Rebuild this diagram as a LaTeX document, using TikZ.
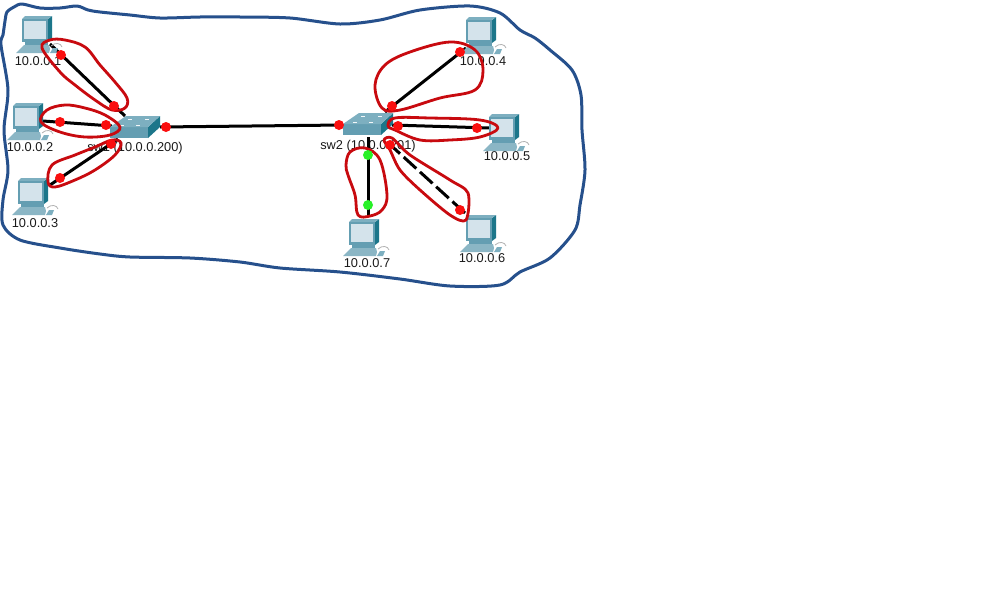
\documentclass[tikz,border=0pt]{standalone}
\usepackage{fontspec}
\setmainfont{Liberation Sans}
\usepackage{xcolor}
\usetikzlibrary{positioning}
\definecolor{outlineblue}{RGB}{38,80,140}
\definecolor{loopred}{RGB}{200,10,15}
\definecolor{dotred}{RGB}{250,15,15}
\definecolor{dotgreen}{RGB}{40,240,40}
\definecolor{screenblue}{RGB}{212,227,235}
\definecolor{casetop}{RGB}{125,175,192}
\definecolor{casefront}{RGB}{100,158,178}
\definecolor{caseside}{RGB}{28,118,138}

\begin{document}
\begin{tikzpicture}[
    x=1pt, y=-1pt,
    link/.style={line width=3pt, black},
    dlink/.style={link, dash pattern=on 17pt off 5pt},
    outline/.style={draw=outlineblue, line width=3pt, line join=round},
    loopline/.style={draw=loopred, line width=2.8pt, line join=round},
    rdot/.style={circle, fill=dotred, inner sep=0pt, minimum size=10pt},
    gdot/.style={circle, fill=dotgreen, inner sep=0pt, minimum size=10pt},
    addr/.style={font=\fontsize{12.8}{14}\selectfont, inner sep=0pt, text=black!90},
    pc/.pic={
        % base and keyboard
        \fill[casefront] (-12,14) rectangle (11,17);
        \fill[casefront!75] (-17,21) -- (-13,17) -- (12,17) -- (13,21) -- (12,25) -- (-21,25) -- cycle;
        \draw[gray!60, line width=0.8pt] (14,18) .. controls (18,14) and (24,15) .. (25,19);
        \fill[casetop] (16,20) -- (21,20) -- (19,25) -- (13,25) -- cycle;
        % monitor
        \fill[caseside] (11,-9) -- (15,-12) -- (15,11) -- (11,14) -- cycle;
        \fill[casetop] (-15,-9) -- (-12,-12) -- (15,-12) -- (11,-9) -- cycle;
        \fill[casefront] (-15,-9) rectangle (11,14);
        \fill[screenblue] (-13,-7) rectangle (9,11);
    },
    switchbox/.pic={
        \fill[casefront] (-25,0) rectangle (13,11);
        \fill[caseside] (13,0) -- (25,-11) -- (25,0) -- (13,11) -- cycle;
        \fill[casetop] (-25,0) -- (-9,-11) -- (25,-11) -- (13,0) -- cycle;
        \foreach \ledx/\ledy in {-13/-2, 3/-2, -5/-8, 12/-8}
            \fill[white!90!casetop] (\ledx-2,\ledy) rectangle (\ledx+2,\ledy+1);
    }
]
    \useasboundingbox (0,0) rectangle (1000,600);
    \fill[white] (0,0) rectangle (1000,600);

    % Labels
    \node[addr] (labela) at (38,61) {10.0.0.1};
    \node[addr] (labelb) at (30,147) {10.0.0.2};
    \node[addr] (labelc) at (35,223) {10.0.0.3};
    \node[addr] (labeld) at (483,61) {10.0.0.4};
    \node[addr] (labele) at (507,156) {10.0.0.5};
    \node[addr] (labelf) at (482,258) {10.0.0.6};
    \node[addr] (labelg) at (367,263) {10.0.0.7};
    \node[addr] (labelsa) at (135,148) {sw1 (10.0.0.200)};
    \node[addr] (labelsb) at (368,146) {sw2 (10.0.0.201)};

    % Link ends
    \coordinate (enda) at (50,44);
    \coordinate (endb) at (43,121);
    \coordinate (endc) at (50,185);
    \coordinate (endd) at (466,48);
    \coordinate (ende) at (490,128);
    \coordinate (endf) at (465,213);
    \coordinate (endg) at (368,217);
    \coordinate (swaa) at (125,116);
    \coordinate (swab) at (112,126);
    \coordinate (swac) at (118,139);
    \coordinate (swad) at (160,127);
    \coordinate (swba) at (343,125);
    \coordinate (swbd) at (385,112);
    \coordinate (swbe) at (392,125);
    \coordinate (swbf) at (385,140);
    \coordinate (swbg) at (368,137);

    % Links
    \draw[link] (enda) -- (swaa);
    \draw[link] (endb) -- (swab);
    \draw[link] (endc) -- (swac);
    \draw[link] (swad) -- (swba);
    \draw[link] (endd) -- (swbd);
    \draw[link] (ende) -- (swbe);
    \draw[dlink] (endf) -- (swbf);
    \draw[link] (endg) -- (swbg);

    % Computers and switches
    \pic (pca) at (37,28) {pc};
    \pic (pcb) at (28,115) {pc};
    \pic (pcc) at (33,190) {pc};
    \pic (pcd) at (481,29) {pc};
    \pic (pce) at (504,126) {pc};
    \pic (pcf) at (481,227) {pc};
    \pic (pcg) at (364,231) {pc};
    \pic (swa) at (135,127) {switchbox};
    \pic (swb) at (368,124) {switchbox};

    % Hand drawn border
    \draw[outline] plot[smooth cycle, tension=0.5] coordinates {
        (5,21) (7,12) (14,7) (22,4) (40,8) (60,8) (77,6) (88,10) (100,12) (130,15) (160,18) (200,17)
        (240,17) (290,18) (340,24) (380,20) (420,10) (470,6) (500,13) (520,30) (535,38) (550,50)
        (572,70) (581,95) (582,130) (585,170) (580,205) (575,230) (550,258) (520,272)
        (500,285) (450,286) (400,279) (340,272) (280,268) (240,262) (190,258) (130,257)
        (100,254) (60,248) (20,240) (3,225) (3,200) (8,170) (4,130) (8,90) (1,45) (3,35)};

    % Hand drawn loops
    \draw[loopline] plot[smooth cycle, tension=0.6] coordinates {
        (42,48) (50,40) (65,40) (85,47) (100,65) (115,82) (127,98) (125,108) (112,110)
        (95,100) (75,85) (60,72)};
    \draw[loopline] plot[smooth cycle, tension=0.6] coordinates {
        (41,122) (47,110) (65,105) (85,108) (105,115) (120,127) (110,135) (85,137) (60,132)};
    \draw[loopline] plot[smooth cycle, tension=0.6] coordinates {
        (52,165) (75,155) (95,147) (112,140) (121,143) (115,155) (95,170) (75,180) (55,187)
        (48,182)};
    \draw[loopline] plot[smooth cycle, tension=0.6] coordinates {
        (382,108) (375,85) (385,65) (410,52) (450,42) (475,50) (483,70) (475,90) (440,98)
        (400,110)};
    \draw[loopline] plot[smooth cycle, tension=0.6] coordinates {
        (388,126) (395,118) (430,118) (480,120) (498,128) (480,137) (450,140) (420,140) (395,130)};
    \draw[loopline] plot[smooth cycle, tension=0.5] coordinates {
        (384,140) (392,138) (410,155) (450,180) (468,193) (466,220) (450,215) (420,190)
        (400,170) (390,150)};
    \draw[loopline] plot[smooth cycle, tension=0.6] coordinates {
        (346,165) (350,152) (365,148) (380,160) (387,195) (382,210) (370,216) (358,215)
        (355,195) (348,175)};

    % Port dots
    \node[rdot] (dotaa) at (61,55) {};
    \node[rdot] (dotab) at (114,106) {};
    \node[rdot] (dotba) at (60,122) {};
    \node[rdot] (dotbb) at (106,125) {};
    \node[rdot] (dotca) at (60,178) {};
    \node[rdot] (dotcb) at (111,144) {};
    \node[rdot] (dotsa) at (166,127) {};
    \node[rdot] (dotsb) at (339,125) {};
    \node[rdot] (dotda) at (460,52) {};
    \node[rdot] (dotdb) at (392,106) {};
    \node[rdot] (dotea) at (477,128) {};
    \node[rdot] (doteb) at (398,126) {};
    \node[rdot] (dotfa) at (460,210) {};
    \node[rdot] (dotfb) at (390,145) {};
    \node[gdot] (dotga) at (368,205) {};
    \node[gdot] (dotgb) at (368,155) {};
\end{tikzpicture}
\end{document}
